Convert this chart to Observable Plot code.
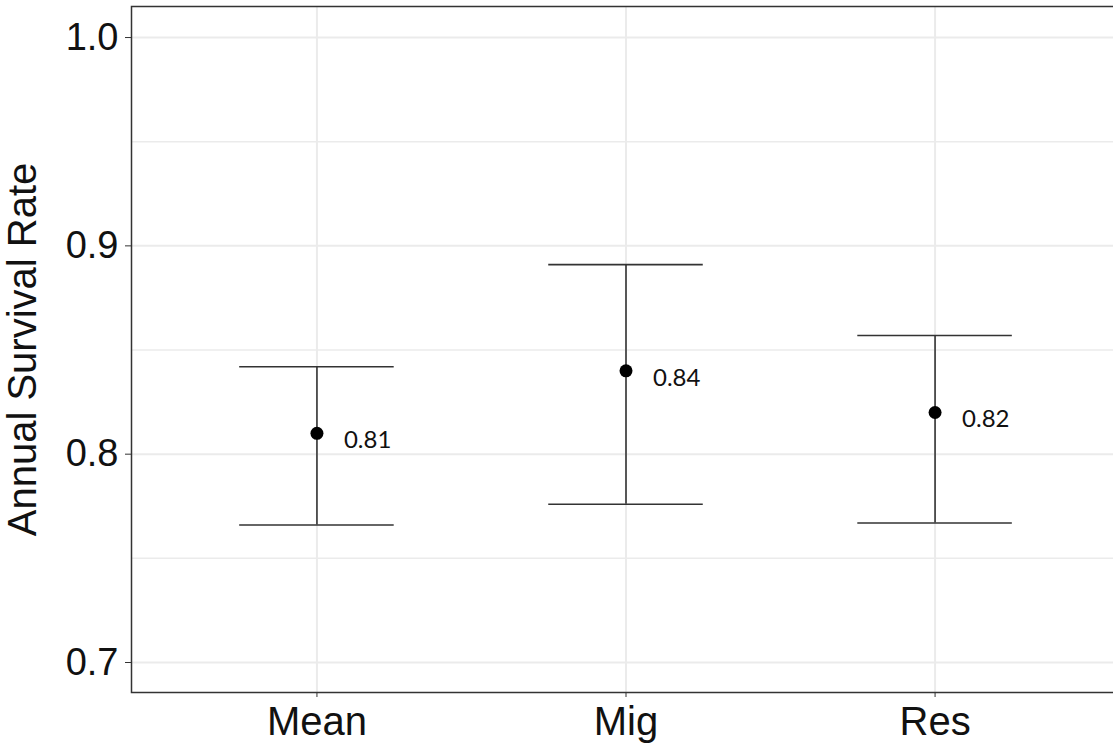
<!DOCTYPE html>
<html>
<head>
<meta charset="utf-8">
<script src="https://cdn.jsdelivr.net/npm/d3@7"></script>
<script src="https://cdn.jsdelivr.net/npm/@observablehq/plot@0.6"></script>
<style>
  html, body { margin: 0; padding: 0; background: #fff; overflow: hidden; }
  #chart { width: 1113px; height: 748px; overflow: hidden; }
  #chart svg { max-width: none !important; }
</style>
</head>
<body>
<div id="chart"></div>
<script>
const groups = ["Mean", "Mig", "Res"];
const estimate = [0.81, 0.84, 0.82];
const lower = [0.766, 0.776, 0.767];
const upper = [0.842, 0.891, 0.857];
const pointLabels = ["0.81", "0.84", "0.82"];
const yTicks = [0.7, 0.8, 0.9, 1.0];
const yMinor = [0.75, 0.85, 0.95];

const data = groups.map((g, i) => ({
  group: g, pos: i + 1, est: estimate[i], lo: lower[i], hi: upper[i], label: pointLabels[i]
}));
const positions = data.map(d => d.pos);

const chart = Plot.plot({
  width: 1120,
  height: 748,
  marginLeft: 131,
  marginRight: 0,
  marginTop: 6,
  marginBottom: 56,
  style: {fontFamily: "'Liberation Sans', Arial, sans-serif", color: "#111", background: "#fff", maxWidth: "none"},
  x: {type: "linear", domain: [0.4, 3.6], label: null},
  y: {domain: [0.6856, 1.0149], label: null},
  marks: [
    Plot.ruleY(yMinor, {stroke: "#ebebeb", strokeWidth: 1.5}),
    Plot.ruleY(yTicks, {stroke: "#ebebeb", strokeWidth: 2}),
    Plot.ruleX(positions, {stroke: "#ebebeb", strokeWidth: 2}),
    Plot.axisX({ticks: positions, tickFormat: d => groups[d - 1], tickSize: 5, tickPadding: 9, fontSize: 40, stroke: "#333", label: null}),
    Plot.axisY({ticks: yTicks, tickFormat: d3.format(".1f"), tickSize: 6, tickPadding: 7, fontSize: 38, stroke: "#333", label: null}),
    Plot.axisY({ticks: [], tickSize: 0, label: "Annual Survival Rate", labelAnchor: "center", labelArrow: "none", labelOffset: 124, fontSize: 40}),
    Plot.ruleX(data, {x: "pos", y1: "lo", y2: "hi", stroke: "#333", strokeWidth: 1.6}),
    Plot.ruleY(data, {y: "hi", x1: d => d.pos - 0.25, x2: d => d.pos + 0.25, stroke: "#333", strokeWidth: 1.6}),
    Plot.ruleY(data, {y: "lo", x1: d => d.pos - 0.25, x2: d => d.pos + 0.25, stroke: "#333", strokeWidth: 1.6}),
    Plot.dot(data, {x: "pos", y: "est", r: 6.5, fill: "#000", stroke: "none"}),
    Plot.text(data, {x: "pos", y: "est", text: "label", dx: 27, dy: 7, textAnchor: "start", fontSize: 24, fontFamily: "Lato, 'Noto Sans', sans-serif", fill: "#111"}),
    Plot.frame({stroke: "#333", strokeWidth: 1.5})
  ]
});
document.getElementById("chart").appendChild(chart);
</script>
</body>
</html>
